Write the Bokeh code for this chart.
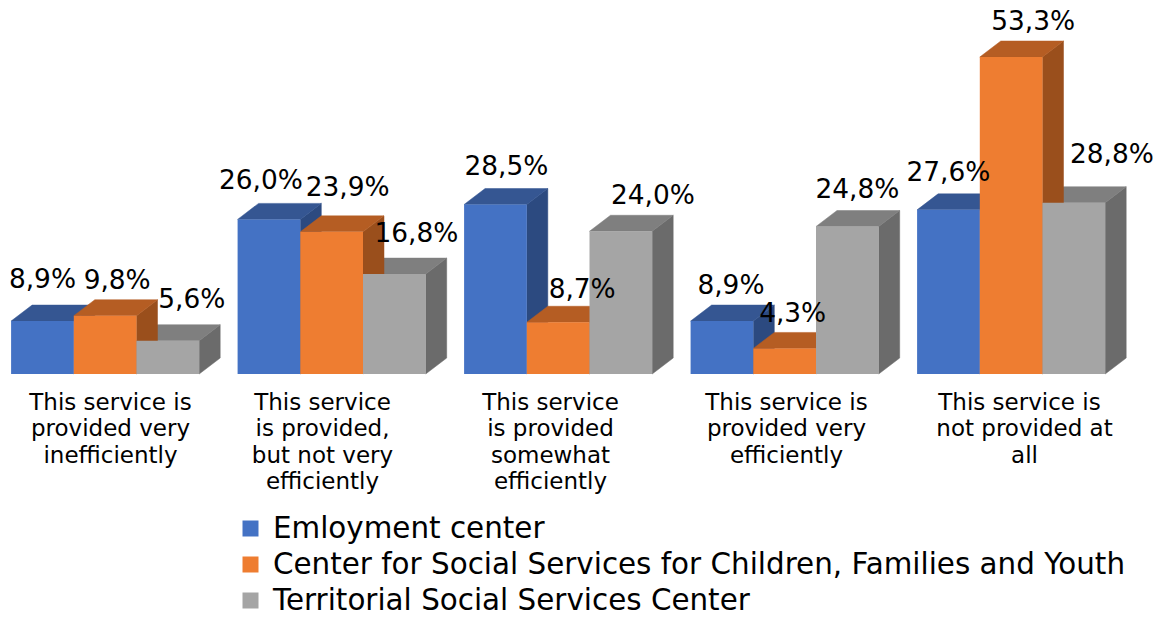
from bokeh.plotting import figure
from bokeh.embed import file_html
from bokeh.resources import INLINE
from bokeh.models import Range1d, Legend, LegendItem, ColumnDataSource
from bokeh.core.properties import value

categories = [
    "This service is\nprovided very\ninefficiently",
    "This service\nis provided,\nbut not very\nefficiently",
    "This service\nis provided\nsomewhat\nefficiently",
    "This service is\nprovided very\nefficiently",
    "This service is\nnot provided at\nall",
]
series_names = [
    "Emloyment center",
    "Center for Social Services for Children, Families and Youth",
    "Territorial Social Services Center",
]
employment = [8.9, 26.0, 28.5, 8.9, 27.6]
social_children = [9.8, 23.9, 8.7, 4.3, 53.3]
territorial = [5.6, 16.8, 24.0, 24.8, 28.8]

FONT = "DejaVu Sans"
W, H = 1158, 617
PX_PER_PCT = 5.947       # pixels per percentage point
PX_PER_GROUP = 226.5     # pixels between groups
BASE_Y = 373.5           # baseline in plot pixels
LEFT_X = 10.6            # first bar's left edge in plot pixels
BAR_W = 62.7 / PX_PER_GROUP
DX = 21 / PX_PER_GROUP
DY = 16 / PX_PER_PCT

front = ["#4472C4", "#EE7D31", "#A5A5A5"]
top = ["#355692", "#B55D23", "#7F7F7F"]
side = ["#2C4A80", "#9A4F1C", "#6B6B6B"]

# label offsets in pixels from the top-centre of each bar
label_dx = [[0, -8, 11, 9, 0], [12, 16, 24, 8, 22], [24, 22, 32, 10, 38]]
label_dy = [[43, 40, 39, 37, 38], [36, 45, 34, 36, 37], [42, 42, 37, 38, 49]]
cat_cx = [110, 322, 550, 786, 1024]
cat_line_shift = {(4, 0): -5}

p = figure(width=W, height=H, output_backend="svg", toolbar_location=None,
           min_border=0, outline_line_color=None,
           x_range=Range1d(-LEFT_X / PX_PER_GROUP, (W - LEFT_X) / PX_PER_GROUP),
           y_range=Range1d((BASE_Y - H) / PX_PER_PCT, BASE_Y / PX_PER_PCT))
p.axis.visible = False
p.grid.visible = False

values = [employment, social_children, territorial]

def lefts(s):
    return [i + s * BAR_W for i in range(len(categories))]

def faces(s):
    xs_t, ys_t, xs_s, ys_s = [], [], [], []
    for x, v in zip(lefts(s), values[s]):
        xs_t.append([x, x + BAR_W, x + BAR_W + DX, x + DX])
        ys_t.append([v, v, v + DY, v + DY])
        xs_s.append([x + BAR_W, x + BAR_W + DX, x + BAR_W + DX, x + BAR_W])
        ys_s.append([0, DY, v + DY, v])
    return xs_t, ys_t, xs_s, ys_s

for s in (0, 2, 1):
    xs_t, ys_t, xs_s, ys_s = faces(s)
    p.patches(xs_s, ys_s, fill_color=side[s], line_color=side[s], line_width=0.5)
    p.patches(xs_t, ys_t, fill_color=top[s], line_color=top[s], line_width=0.5)

items = []
for s in range(3):
    l = lefts(s)
    r = p.quad(left=l, right=[x + BAR_W for x in l], bottom=[0] * len(l), top=values[s],
               fill_color=front[s], line_color=None)
    items.append(LegendItem(label=series_names[s], renderers=[r]))

for s in range(3):
    src = ColumnDataSource(dict(
        x=[x + BAR_W / 2 for x in lefts(s)], y=values[s],
        t=[f"{v:.1f}%".replace(".", ",") for v in values[s]],
        dx=label_dx[s], dy=[-d for d in label_dy[s]]))
    p.text("x", "y", text="t", source=src, x_offset="dx", y_offset="dy",
           text_align="center", text_baseline="middle",
           text_font=value(FONT), text_font_size="26.4px", text_color="#000000")

# category labels, one text per line
lx, ly, lt = [], [], []
for g, (c, cx) in enumerate(zip(categories, cat_cx)):
    for n, line in enumerate(c.split("\n")):
        lx.append((cx + cat_line_shift.get((g, n), 0) - LEFT_X) / PX_PER_GROUP)
        ly.append(-(401 + n * 26.6 - BASE_Y) / PX_PER_PCT)
        lt.append(line)
p.text(lx, ly, text=lt, text_align="center", text_baseline="middle",
       text_font=value(FONT), text_font_size="23px", text_color="#000000")

legend = Legend(items=items, location=(240, 0), orientation="vertical",
                padding=0, margin=0, spacing=2,
                glyph_width=20, glyph_height=20, label_standoff=13, label_height=30,
                label_text_font=FONT, label_text_font_size="29.4px", label_text_color="#000000",
                background_fill_alpha=0, border_line_alpha=0)
p.add_layout(legend)

open("out.html", "w").write(file_html(p, INLINE))
